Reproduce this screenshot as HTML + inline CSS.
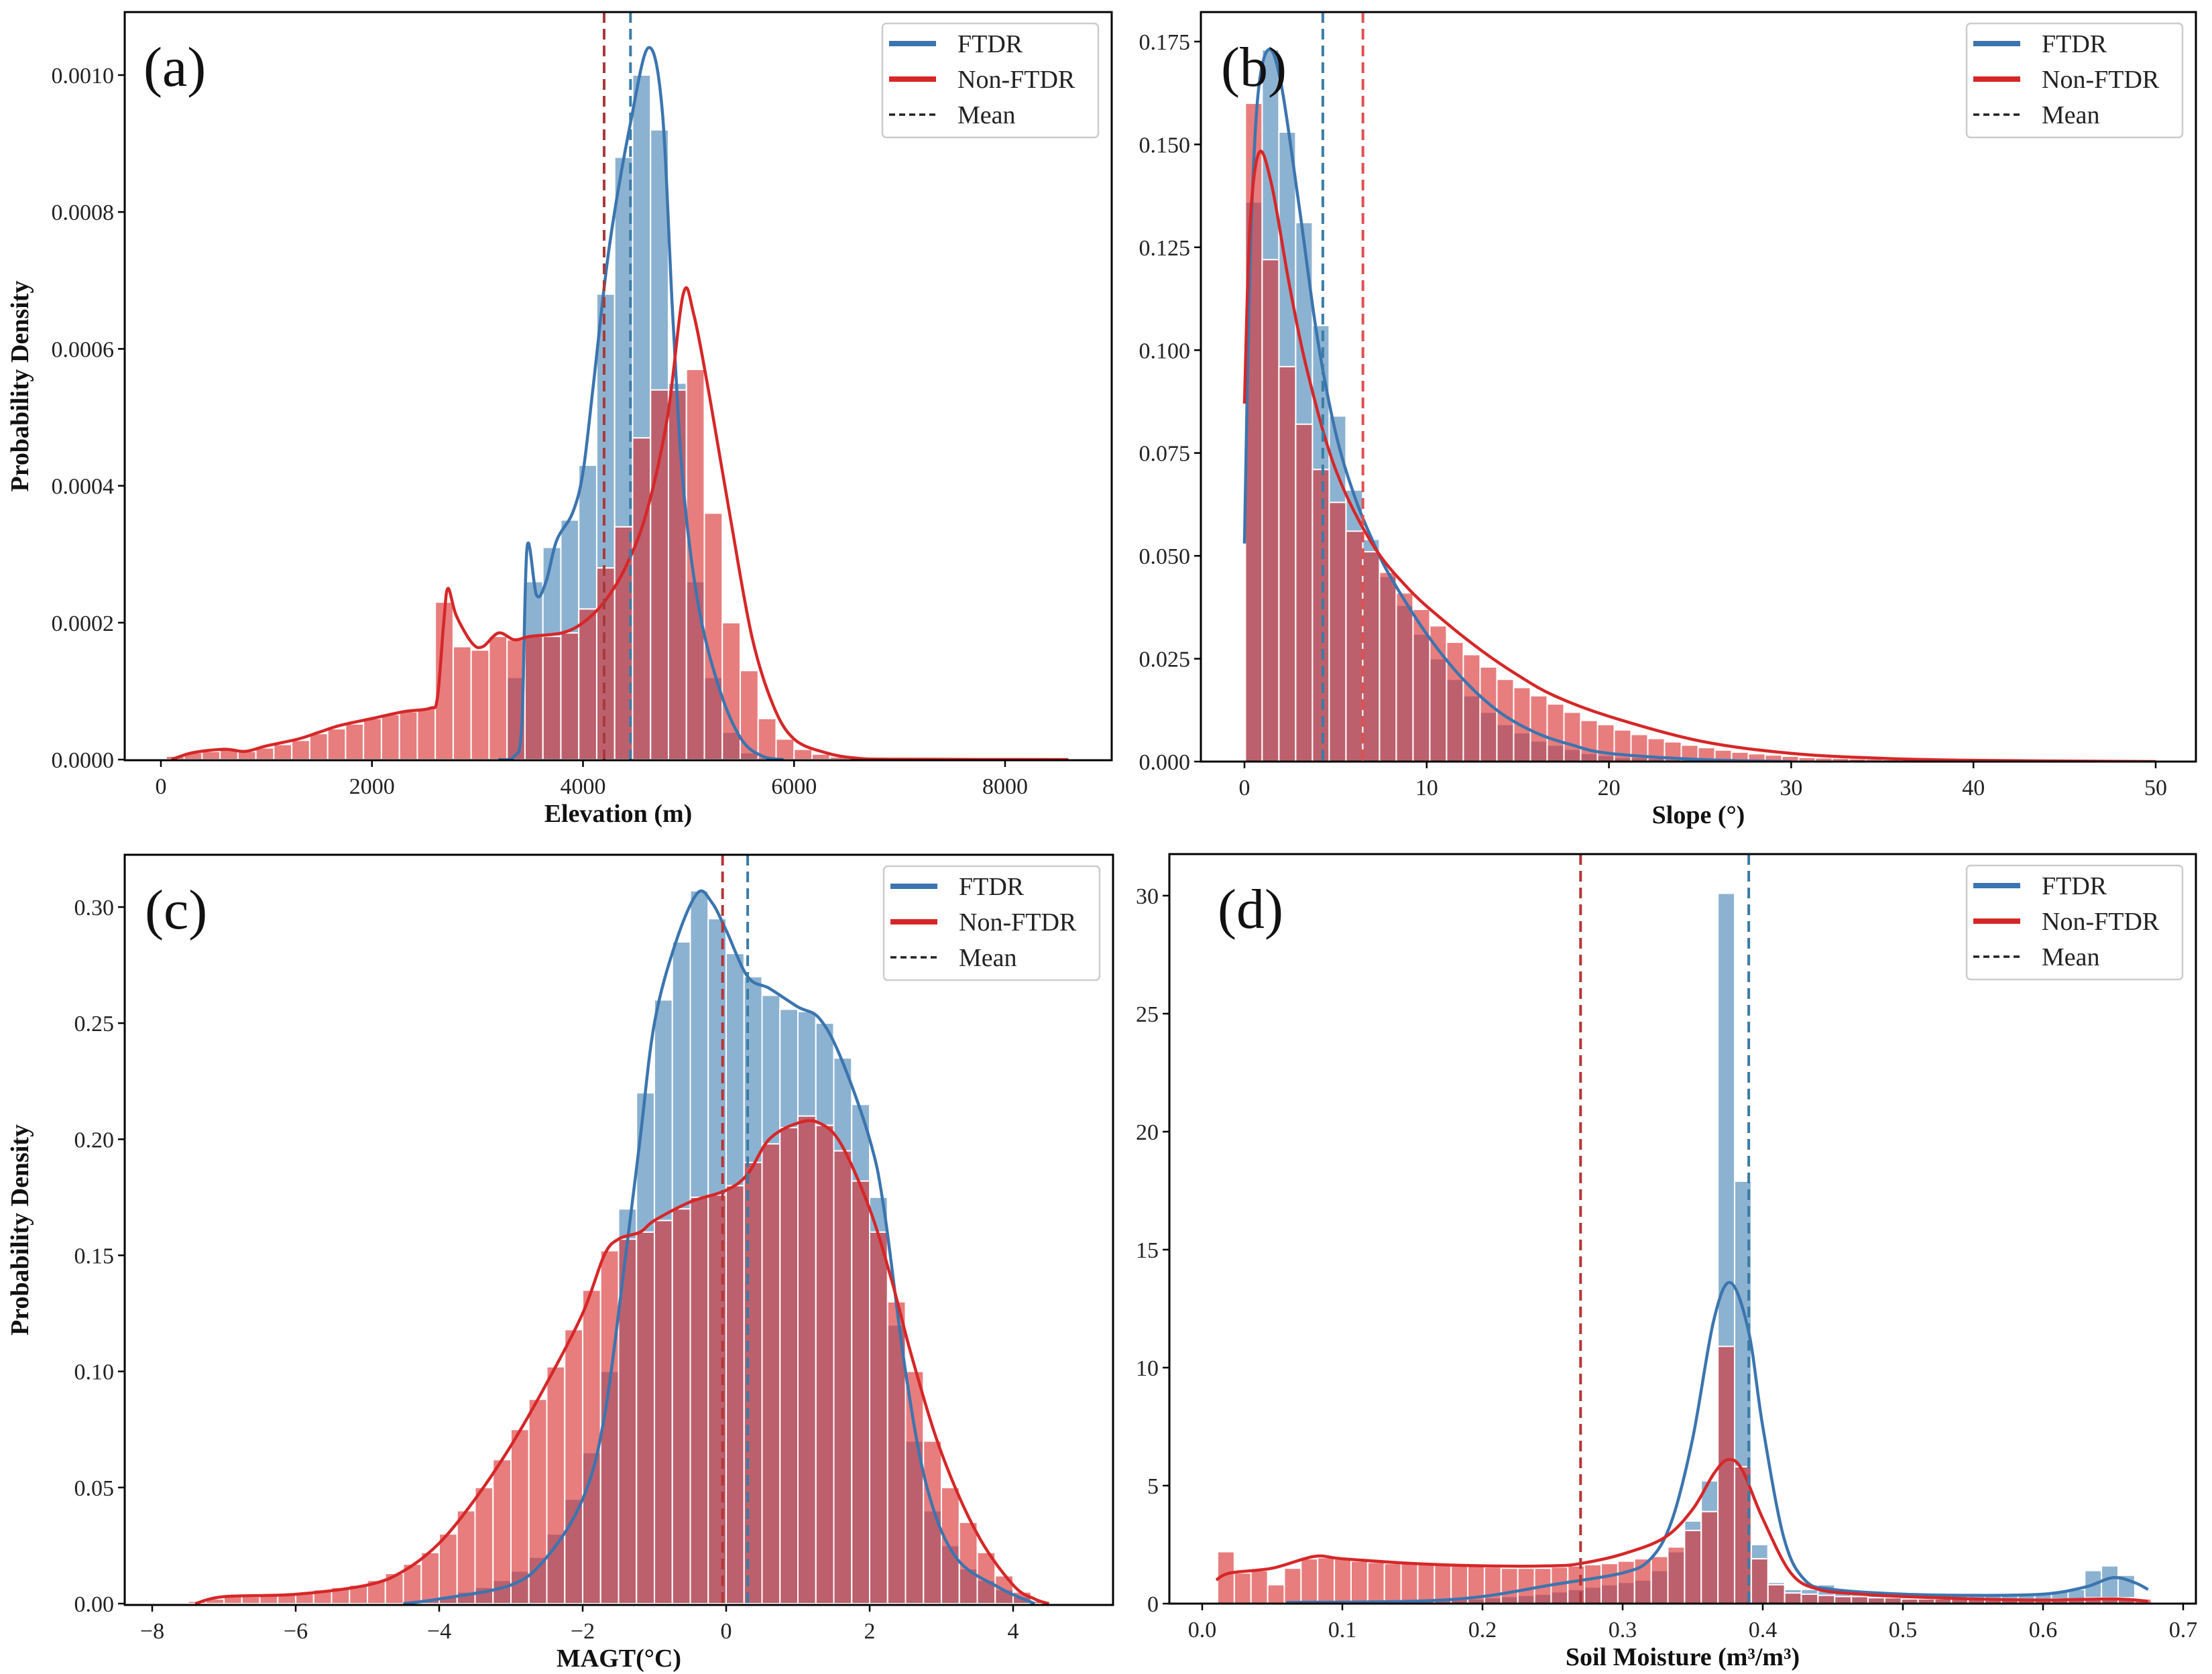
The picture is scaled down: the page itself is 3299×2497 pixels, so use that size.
<!DOCTYPE html>
<html><head><meta charset="utf-8"><style>
html,body{margin:0;padding:0;background:#fff}
svg{display:block}
text{font-family:"Liberation Serif","DejaVu Serif",serif}
</style></head><body>
<svg id="chart" xmlns="http://www.w3.org/2000/svg" width="3299" height="2497" viewBox="0 0 3299 2497"></svg>
<script>
// ---------- Panel (a) Elevation ----------
const elevBinStart = 50;
const elevBinWidth = 170;
const elevRed = [0.05,0.1,0.12,0.15,0.12,0.17,0.22,0.28,0.38,0.45,0.52,0.6,0.66,0.7,0.75,2.3,1.65,1.6,1.8,1.75,1.8,1.8,1.85,2.2,2.8,3.4,4.7,5.4,5.4,5.7,3.6,2.0,1.3,0.6,0.3,0.15,0.08,0.04,0.02,0.01,0.01,0.01,0.01,0.01,0.01,0.01,0.01,0.01,0.01,0.01];
const elevBlue = [0,0,0,0,0,0,0,0,0,0,0,0,0,0,0,0,0,0,0,1.2,2.6,3.1,3.5,4.3,6.8,8.8,10.0,9.2,5.5,2.6,1.2,0.4,0.1,0.03,0,0,0,0,0,0,0,0,0,0,0,0,0,0,0,0];
const elevKdeRedX = [100,300,600,800,1000,1300,1500,1700,2000,2300,2550,2620,2680,2720,2800,2950,3050,3200,3350,3500,3800,4000,4200,4400,4600,4800,4950,5050,5200,5400,5600,5800,6000,6300,6600,7000,8600];
const elevKdeRedY = [0,0.1,0.15,0.12,0.2,0.3,0.4,0.5,0.6,0.7,0.75,0.9,2.0,2.5,2.1,1.7,1.65,1.85,1.75,1.8,1.85,2.0,2.3,2.8,3.6,5.0,6.8,6.5,5.3,3.5,1.8,0.8,0.3,0.1,0.02,0.005,0];
const elevKdeBlueX = [3200,3350,3420,3470,3560,3650,3750,3900,4000,4100,4250,4450,4620,4750,4850,4950,5100,5300,5500,5700,5900];
const elevKdeBlueY = [0,0.05,0.5,3.1,2.4,2.6,3.2,3.6,4.2,5.5,7.5,9.3,10.4,9.5,6.5,4.0,2.2,1.0,0.3,0.05,0];
const elevMeans = [4450, 4200]; // FTDR, Non-FTDR
const elevXTicks = [0,2000,4000,6000,8000];
const elevYTicks = [0,0.0002,0.0004,0.0006,0.0008,0.0010];

// ---------- Panel (b) Slope ----------
const slopeBinStart = 0.05;
const slopeBinWidth = 0.92;
const slopeBlue = [0.136,0.173,0.153,0.131,0.106,0.084,0.066,0.054,0.045,0.038,0.031,0.025,0.02,0.016,0.012,0.009,0.007,0.005,0.004,0.003,0.002,0.0015,0.001,0.001,0.0008,0.0005,0.0003,0.0002];
const slopeRed = [0.160,0.122,0.096,0.082,0.071,0.063,0.056,0.051,0.046,0.041,0.037,0.033,0.029,0.026,0.023,0.020,0.018,0.016,0.014,0.012,0.010,0.009,0.0077,0.0066,0.0056,0.0048,0.004,0.0034,0.0028,0.0023,0.0019,0.0016,0.0013,0.001,0.0009,0.0008,0.0007,0.0006,0.0005,0.0004,0.0004,0.0003,0.0003,0.0002,0.0002,0.0002,0.0002,0.0001,0.0001,0.0001,0.0001,0.0001,0.0001];
const slopeKdeBlueX = [0,0.3,0.7,1.3,2,3,4,5,6,7,8,10,12,14,16,18,20,25,30];
const slopeKdeBlueY = [0.053,0.12,0.16,0.173,0.165,0.135,0.103,0.08,0.065,0.054,0.045,0.031,0.02,0.012,0.007,0.004,0.002,0.0005,0];
const slopeKdeRedX = [0,0.3,0.8,1.5,2.5,3.5,5,7,9,11,13,15,17,20,25,30,35,40,50];
const slopeKdeRedY = [0.087,0.13,0.148,0.14,0.115,0.094,0.071,0.053,0.042,0.034,0.027,0.021,0.016,0.011,0.005,0.002,0.0008,0.0003,0];
const slopeMeans = [4.3, 6.5];
const slopeXTicks = [0,10,20,30,40,50];
const slopeYTicks = [0,0.025,0.05,0.075,0.1,0.125,0.15,0.175];

// ---------- Panel (c) MAGT ----------
const magtBinStart = -7.5;
const magtBinWidth = 0.25;
const magtRed = [0.001,0.002,0.003,0.003,0.004,0.004,0.005,0.006,0.007,0.008,0.010,0.013,0.017,0.022,0.030,0.040,0.050,0.062,0.075,0.088,0.102,0.118,0.135,0.152,0.157,0.160,0.165,0.170,0.175,0.176,0.180,0.190,0.198,0.205,0.210,0.206,0.195,0.182,0.160,0.130,0.100,0.070,0.050,0.035,0.022,0.012,0.005,0.001];
const magtBlue = [0,0,0,0,0,0,0,0,0,0,0,0,0.001,0.002,0.003,0.005,0.007,0.010,0.014,0.020,0.030,0.045,0.065,0.10,0.17,0.22,0.26,0.285,0.307,0.295,0.28,0.27,0.262,0.256,0.255,0.25,0.235,0.215,0.175,0.12,0.07,0.04,0.025,0.015,0.01,0.006,0.003,0.001];
const magtKdeRedX = [-7.4,-7,-6,-5,-4.5,-4,-3.5,-3,-2.5,-2,-1.7,-1.5,-1.2,-1,-0.5,0,0.3,0.6,1,1.3,1.6,2,2.3,2.6,3,3.5,4,4.3,4.5];
const magtKdeRedY = [0,0.003,0.004,0.008,0.014,0.026,0.045,0.068,0.095,0.125,0.15,0.157,0.16,0.165,0.173,0.178,0.185,0.2,0.207,0.207,0.198,0.17,0.14,0.105,0.065,0.03,0.008,0.002,0];
const magtKdeBlueX = [-4.5,-4,-3,-2.5,-2,-1.7,-1.4,-1.2,-1,-0.7,-0.4,-0.2,0,0.3,0.6,1,1.3,1.6,2,2.2,2.5,2.8,3.2,3.8,4.3];
const magtKdeBlueY = [0,0.002,0.008,0.02,0.045,0.08,0.15,0.2,0.25,0.285,0.306,0.302,0.29,0.27,0.265,0.257,0.252,0.235,0.2,0.17,0.1,0.05,0.02,0.007,0];
const magtMeans = [0.3, -0.05];
const magtXTicks = [-8,-6,-4,-2,0,2,4];
const magtYTicks = [0,0.05,0.1,0.15,0.2,0.25,0.3];

// ---------- Panel (d) Soil moisture ----------
const smBinStart = 0.011;
const smBinWidth = 0.0119;
const smRed = [2.2,1.3,1.4,0.8,1.5,1.9,1.95,1.9,1.8,1.75,1.7,1.7,1.65,1.65,1.6,1.6,1.55,1.5,1.5,1.5,1.55,1.6,1.65,1.7,1.8,1.9,2.0,2.4,3.1,3.9,10.9,5.8,1.9,0.8,0.45,0.4,0.35,0.3,0.3,0.25,0.25,0.2,0.2,0.2,0.2,0.2,0.15,0.15,0.15,0.15,0.2,0.2,0.25,0.25,0.25,0.2];
const smBlue = [0,0,0,0,0.05,0.05,0.06,0.07,0.08,0.09,0.1,0.12,0.14,0.16,0.18,0.2,0.25,0.3,0.35,0.4,0.5,0.6,0.7,0.8,0.9,1.0,1.4,2.2,3.5,5.2,30.1,17.9,2.5,0.9,0.6,0.6,0.8,0.5,0.45,0.35,0.35,0.35,0.35,0.35,0.35,0.35,0.35,0.35,0.35,0.4,0.5,0.6,1.4,1.6,1.2,0];
const smKdeRedX = [0.01,0.02,0.05,0.08,0.1,0.15,0.2,0.25,0.27,0.3,0.33,0.35,0.365,0.375,0.385,0.4,0.42,0.44,0.47,0.5,0.55,0.6,0.65,0.675];
const smKdeRedY = [1.0,1.3,1.5,2.0,1.9,1.7,1.6,1.6,1.7,2.1,2.8,4.0,5.5,6.1,5.7,3.6,1.3,0.6,0.4,0.3,0.2,0.15,0.2,0.1];
const smKdeBlueX = [0.06,0.15,0.2,0.25,0.3,0.32,0.335,0.35,0.365,0.377,0.39,0.4,0.415,0.43,0.45,0.5,0.55,0.6,0.63,0.65,0.665,0.675];
const smKdeBlueY = [0.05,0.1,0.3,0.8,1.3,1.9,3.5,7,12,13.6,11.5,7.5,2.8,1.0,0.6,0.4,0.35,0.4,0.7,1.1,0.9,0.6];
const smMeans = [0.39, 0.27];
const smXTicks = [0,0.1,0.2,0.3,0.4,0.5,0.6,0.7];
const smYTicks = [0,5,10,15,20,25,30];

const NS = "http://www.w3.org/2000/svg";
const svg = document.getElementById('chart');
function mk(tag, attrs, parent){
  const e = document.createElementNS(NS, tag);
  for (const k in attrs) e.setAttribute(k, attrs[k]);
  (parent||svg).appendChild(e);
  return e;
}
const BLUE_FILL='rgba(70,130,180,0.62)', RED_FILL='rgba(218,45,47,0.62)';
const BLUE_LINE='#3b75af', RED_LINE='#d62728';

function panel(cfg){
  const g = mk('g',{});
  
  
  const X = v => cfg.xp0 + (v - cfg.xv0) * (cfg.xp1 - cfg.xp0) / (cfg.xv1 - cfg.xv0);
  const Y = v => cfg.yp0 + (v - cfg.yv0) * (cfg.yp1 - cfg.yp0) / (cfg.yv1 - cfg.yv0);
  const clip = mk('clipPath',{id:'clip-'+cfg.name}, g);
  mk('rect',{x:cfg.L,y:cfg.T,width:cfg.R-cfg.L,height:cfg.B-cfg.T},clip);
  const plot = mk('g',{'clip-path':'url(#clip-'+cfg.name+')'}, g);
  function bars(vals, fill, nm){
    vals.forEach((v,i)=>{
      if (v<=0) return;
      const x0 = X(cfg.binStart + i*cfg.binWidth), x1 = X(cfg.binStart + (i+1)*cfg.binWidth);
      const r = mk('rect',{x:x0,y:Y(v),width:x1-x0,height:Y(0)-Y(v),fill:fill,stroke:'#fff','stroke-width':2}, plot);
      
      
    });
  }
  bars(cfg.blue, BLUE_FILL, 'ftdr-bar');
  bars(cfg.red, RED_FILL, 'non-ftdr-bar');
  function line(xs, ys, col, nm){
    const pts = xs.map((x,i)=>[X(x),Y(ys[i])]);
    let d = 'M'+pts[0][0]+','+pts[0][1];
    for (let i=0;i<pts.length-1;i++){
      const p0=pts[Math.max(0,i-1)],p1=pts[i],p2=pts[i+1],p3=pts[Math.min(pts.length-1,i+2)];
      const c1=[p1[0]+(p2[0]-p0[0])/6,p1[1]+(p2[1]-p0[1])/6];
      const c2=[p2[0]-(p3[0]-p1[0])/6,p2[1]-(p3[1]-p1[1])/6];
      d+=' C'+c1[0]+','+c1[1]+' '+c2[0]+','+c2[1]+' '+p2[0]+','+p2[1];
    }
    const p = mk('path',{d:d,fill:'none',stroke:col,'stroke-width':4.5}, plot);
    
    
  }
  line(cfg.kbx, cfg.kby, BLUE_LINE, 'ftdr-kde-line');
  line(cfg.krx, cfg.kry, RED_LINE, 'non-ftdr-kde-line');
  const mb = mk('line',{x1:X(cfg.means[0]),x2:X(cfg.means[0]),y1:cfg.T,y2:cfg.B,stroke:'#3a7ca5','stroke-width':4,'stroke-dasharray':'16,9'}, g);
  
  
  const mr = mk('line',{x1:X(cfg.means[1]),x2:X(cfg.means[1]),y1:cfg.T,y2:cfg.B,stroke:cfg.redMeanCol,'stroke-width':4,'stroke-dasharray':'16,9'}, g);
  
  
  const fr = mk('rect',{x:cfg.L,y:cfg.T,width:cfg.R-cfg.L,height:cfg.B-cfg.T,fill:'none',stroke:'#000','stroke-width':3}, g);
  
  
  cfg.xt.forEach(t=>{
    const x = X(t);
    mk('line',{x1:x,x2:x,y1:cfg.B,y2:cfg.B+10,stroke:'#000','stroke-width':2.5}, g);
    const tx = mk('text',{x:x,y:cfg.B+50,'font-size':34,'text-anchor':'middle',fill:'#222'}, g);
    tx.textContent = cfg.xf(t);
    
    
  });
  cfg.yt.forEach(t=>{
    const y = Y(t);
    mk('line',{x1:cfg.L-10,x2:cfg.L,y1:y,y2:y,stroke:'#000','stroke-width':2.5}, g);
    const tx = mk('text',{x:cfg.L-16,y:y+12,'font-size':34,'text-anchor':'end',fill:'#222'}, g);
    tx.textContent = cfg.yf(t);
    
    
  });
  const xl = mk('text',{x:(cfg.L+cfg.R)/2,y:cfg.B+92,'font-size':38,'font-weight':'bold','text-anchor':'middle',fill:'#111'}, g);
  xl.textContent = cfg.xlabel;
  
  
  if (cfg.ylabel){
    const cy=(cfg.T+cfg.B)/2;
    const yl = mk('text',{x:0,y:0,transform:'translate(42,'+cy+') rotate(-90)','font-size':38,'font-weight':'bold','text-anchor':'middle',fill:'#111'}, g);
    yl.textContent = 'Probability Density';
    
    
  }
  const pl = mk('text',{x:cfg.L+cfg.lblDx,y:cfg.T+110,'font-size':84,fill:'#111'}, g);
  pl.textContent = cfg.label;
  
  
  const lx = cfg.R - 342, ly = cfg.T + 17;
  const lg = mk('g',{}, g);
  
  
  mk('rect',{x:lx,y:ly,width:322,height:170,rx:6,fill:'#fff','fill-opacity':0.85,stroke:'#ccc','stroke-width':2.5}, lg);
  const ents=[['FTDR',BLUE_LINE,'none',8],['Non-FTDR',RED_LINE,'none',8],['Mean','#222','9,6',3.5]];
  ents.forEach((e,i)=>{
    const yy = ly+30+i*53;
    const eg = mk('g',{}, lg);
    
    
    mk('line',{x1:lx+10,x2:lx+80,y1:yy,y2:yy,stroke:e[1],'stroke-width':e[3],'stroke-dasharray':e[2]}, eg);
    const t = mk('text',{x:lx+112,y:yy+13,'font-size':38,fill:'#222'}, eg);
    t.textContent = e[0];
  });
}

panel({name:'panel-a-elevation',L:186,R:1658,T:18,B:1134,xv0:0,xv1:8000,xp0:240,xp1:1499,yv0:0,yv1:0.001,yp0:1133,yp1:112,
  binStart:elevBinStart,binWidth:elevBinWidth,blue:elevBlue.map(v=>v*1e-4),red:elevRed.map(v=>v*1e-4),
  kbx:elevKdeBlueX,kby:elevKdeBlueY.map(v=>v*1e-4),krx:elevKdeRedX,kry:elevKdeRedY.map(v=>v*1e-4),
  means:elevMeans,redMeanCol:'#a83a3a',xt:elevXTicks,yt:elevYTicks,xf:t=>String(t),yf:t=>t.toFixed(4),
  xlabel:'Elevation (m)',ylabel:true,label:'(a)',lblDx:28});
panel({name:'panel-b-slope',L:1791,R:3275,T:18,B:1136,xv0:0,xv1:50,xp0:1856,xp1:3215,yv0:0,yv1:0.175,yp0:1136,yp1:62,
  binStart:slopeBinStart,binWidth:slopeBinWidth,blue:slopeBlue,red:slopeRed,
  kbx:slopeKdeBlueX,kby:slopeKdeBlueY,krx:slopeKdeRedX,kry:slopeKdeRedY,
  means:slopeMeans,redMeanCol:'#e05050',xt:slopeXTicks,yt:slopeYTicks,xf:t=>String(t),yf:t=>t.toFixed(3),
  xlabel:'Slope (°)',ylabel:false,label:'(b)',lblDx:30});
panel({name:'panel-c-magt',L:186,R:1660,T:1275,B:2394,xv0:-8,xv1:4,xp0:227,xp1:1511,yv0:0,yv1:0.3,yp0:2392,yp1:1353,
  binStart:magtBinStart,binWidth:magtBinWidth,blue:magtBlue,red:magtRed,
  kbx:magtKdeBlueX,kby:magtKdeBlueY,krx:magtKdeRedX,kry:magtKdeRedY,
  means:magtMeans,redMeanCol:'#b53535',xt:magtXTicks,yt:magtYTicks,xf:t=>(t<0?'\u2212'+(-t):String(t)),yf:t=>t.toFixed(2),
  xlabel:'MAGT(°C)',ylabel:true,label:'(c)',lblDx:30});
panel({name:'panel-d-soil-moisture',L:1744,R:3275,T:1274,B:2392,xv0:0,xv1:0.7,xp0:1793,xp1:3256,yv0:0,yv1:30,yp0:2392,yp1:1336,
  binStart:smBinStart,binWidth:smBinWidth,blue:smBlue,red:smRed,
  kbx:smKdeBlueX,kby:smKdeBlueY,krx:smKdeRedX,kry:smKdeRedY,
  means:smMeans,redMeanCol:'#b53535',xt:smXTicks,yt:smYTicks,xf:t=>t.toFixed(1),yf:t=>String(t),
  xlabel:'Soil Moisture (m³/m³)',ylabel:false,label:'(d)',lblDx:72});
</script>
</body></html>
